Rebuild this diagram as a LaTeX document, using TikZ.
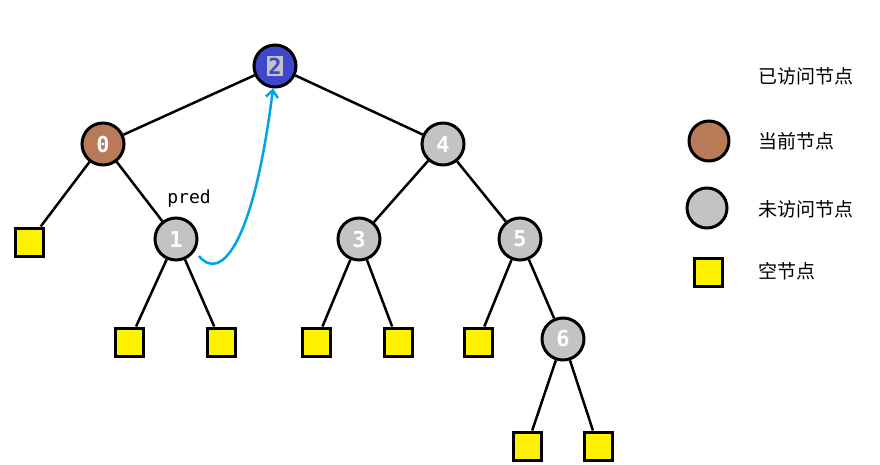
\documentclass[tikz,border=0pt]{standalone}
\usepackage{fontspec}
\newfontfamily\cjk{Noto Sans CJK SC}
\newfontfamily\codefont{DejaVu Sans Mono}
\usetikzlibrary{arrows.meta}

\definecolor{visitedblue}{HTML}{3F48CC}
\definecolor{currentbrown}{HTML}{B97A57}
\definecolor{unvisitedgray}{HTML}{C3C3C3}
\definecolor{nullyellow}{HTML}{FFF200}
\definecolor{threadblue}{HTML}{00A2E8}

\begin{document}
\begin{tikzpicture}[x=1pt, y=-1pt,
    treenode/.style={circle, draw=black, line width=3pt, minimum size=42pt, inner sep=0pt,
        font=\codefont\bfseries\fontsize{22}{22}\selectfont, text=white},
    visited/.style={treenode, fill=visitedblue},
    current/.style={treenode, fill=currentbrown},
    unvisited/.style={treenode, fill=unvisitedgray},
    nullnode/.style={rectangle, draw=black, line width=3pt, fill=nullyellow, minimum size=28pt, inner sep=0pt},
    branch/.style={line width=2.5pt, black},
    legendtext/.style={anchor=west, font=\cjk\fontsize{19}{19}\selectfont}]

    \useasboundingbox (0,0) rectangle (880,465);

    % Tree nodes
    \node[visited] (n2) at (275,66) {\fboxsep=1.5pt\colorbox{unvisitedgray}{\textcolor{visitedblue}{2}}};
    \node[current] (n0) at (103,144) {0};
    \node[unvisited] (n4) at (443,144) {4};
    \node[unvisited] (n1) at (176,239) {1};
    \node[unvisited] (n3) at (359,239) {3};
    \node[unvisited] (n5) at (520,239) {5};
    \node[unvisited] (n6) at (563,339) {6};

    % Empty children
    \node[nullnode] (s0) at (29,242) {};
    \node[nullnode] (s1) at (129,342) {};
    \node[nullnode] (s2) at (221,342) {};
    \node[nullnode] (s3) at (316,342) {};
    \node[nullnode] (s4) at (398,342) {};
    \node[nullnode] (s5) at (478,342) {};
    \node[nullnode] (s6) at (527,446) {};
    \node[nullnode] (s7) at (598,446) {};

    % Branches
    \foreach \a/\b in {n2/n0, n2/n4, n0/s0, n0/n1, n1/s1, n1/s2, n4/n3, n4/n5,
                       n3/s3, n3/s4, n5/s5, n5/n6, n6/s6, n6/s7}
        \draw[branch] (\a) -- (\b);

    % Predecessor thread back to the root
    \node[font=\codefont\fontsize{18}{18}\selectfont] (pred) at (189,199) {pred};
    \coordinate (predstart) at (199,256);
    \draw[threadblue, line width=2.5pt, -{Straight Barb[length=7pt, width=12pt]}]
        (predstart) .. controls (218,280) and (252,255) .. (n2.-95);

    % Legend
    \node[legendtext] (lvisited) at (755,76) {已访问节点};
    \node[current, minimum size=40pt] (lcurrent) at (709,141) {};
    \node[legendtext] (lcurtext) at (755,141) {当前节点};
    \node[unvisited, minimum size=40pt] (lunvisited) at (707,208) {};
    \node[legendtext] (lunvtext) at (755,209) {未访问节点};
    \node[nullnode] (lnull) at (708,272) {};
    \node[legendtext] (lnulltext) at (755,271) {空节点};
\end{tikzpicture}
\end{document}
